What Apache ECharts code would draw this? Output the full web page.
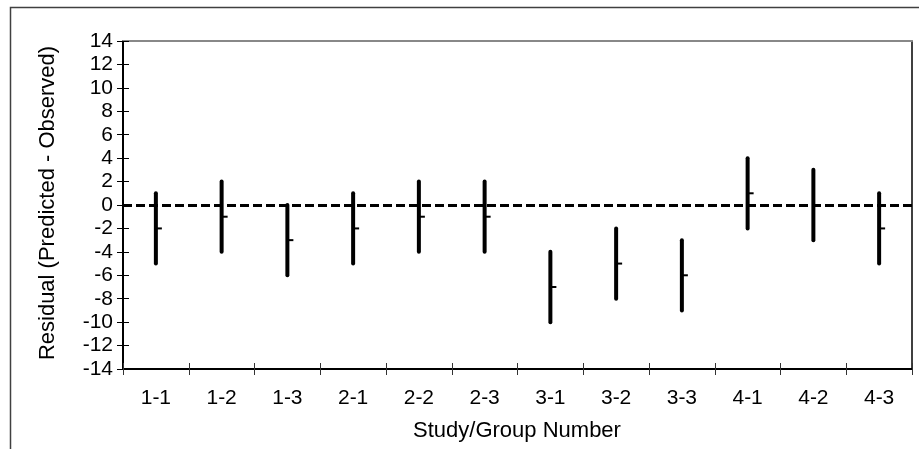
<!DOCTYPE html>
<html>
<head>
<meta charset="utf-8">
<script src="https://cdn.jsdelivr.net/npm/echarts@6/dist/echarts.min.js"></script>
<style>
html,body{margin:0;padding:0;background:#fff;}
#chart{width:919px;height:449px;}
</style>
</head>
<body>
<div id="chart"></div>
<script>
const categories = ['1-1','1-2','1-3','2-1','2-2','2-3','3-1','3-2','3-3','4-1','4-2','4-3'];
const lowValues  = [-5, -4, -6, -5, -4, -4, -10, -8, -9, -2, -3, -5];
const highValues = [ 1,  2,  0,  1,  2,  2,  -4, -2, -3,  4,  3,  1];
const meanValues = [-2, -1, -3, -2, -1, -1,  -7, -5, -6,  1,  0, -2];
const yMin = -14, yMax = 14, yStep = 2;
const xTitle = 'Study/Group Number';
const yTitle = 'Residual (Predicted - Observed)';

const FONT = 'Arial, "Liberation Sans", sans-serif';
const chart = echarts.init(document.getElementById('chart'), null, {renderer:'canvas'});

const seriesData = categories.map((c, i) => [i, lowValues[i], highValues[i], meanValues[i]]);

const option = {
  animation: false,
  backgroundColor: '#fff',
  grid: {left: 123, top: 41, right: 7, bottom: 80, show: false},
  xAxis: [
    {
      type: 'category', data: categories, position: 'bottom', boundaryGap: true,
      axisLine: {show: true, onZero: false, lineStyle: {color: '#000', width: 2}},
      axisTick: {show: true, inside: false, length: 6, alignWithLabel: false, lineStyle: {color: '#333', width: 1}},
      axisLabel: {show: true, color: '#000', fontSize: 21, fontFamily: FONT, margin: 19, interval: 0},
      splitLine: {show: false}
    },
    {
      type: 'category', data: categories, position: 'top', boundaryGap: true,
      axisLine: {show: true, onZero: false, lineStyle: {color: '#888', width: 2}},
      axisTick: {show: false}, axisLabel: {show: false}, splitLine: {show: false}
    },
    {
      type: 'category', data: categories, position: 'bottom', boundaryGap: true, offset: 0,
      axisLine: {show: false, onZero: false},
      axisTick: {show: true, inside: true, length: 6, lineStyle: {color: '#333', width: 1}},
      axisLabel: {show: false}, splitLine: {show: false}
    }
  ],
  yAxis: [
    {
      type: 'value', min: yMin, max: yMax, interval: yStep, position: 'left',
      axisLine: {show: true, onZero: false, lineStyle: {color: '#000', width: 2}},
      axisTick: {show: true, inside: false, length: 6, lineStyle: {color: '#000', width: 1}},
      axisLabel: {show: true, color: '#000', fontSize: 21, fontFamily: FONT, margin: 10},
      splitLine: {show: false}
    },
    {
      type: 'value', min: yMin, max: yMax, interval: yStep, position: 'left', offset: 0,
      axisLine: {show: false, onZero: false},
      axisTick: {show: true, inside: true, length: 6, lineStyle: {color: '#000', width: 1}},
      axisLabel: {show: false}, splitLine: {show: false}
    },
    {
      type: 'value', min: yMin, max: yMax, interval: yStep, position: 'right',
      axisLine: {show: true, onZero: false, lineStyle: {color: '#000', width: 1.5}},
      axisTick: {show: false}, axisLabel: {show: false}, splitLine: {show: false}
    }
  ],
  series: [
    {
      type: 'custom',
      xAxisIndex: 0, yAxisIndex: 0,
      data: seriesData,
      encode: {x: 0, y: [1, 2, 3]},
      renderItem: function (params, api) {
        const x = api.value(0);
        const lo = api.coord([x, api.value(1)]);
        const hi = api.coord([x, api.value(2)]);
        const m = api.coord([x, api.value(3)]);
        return {
          type: 'group',
          children: [
            {type: 'line', shape: {x1: lo[0], y1: lo[1], x2: hi[0], y2: hi[1]},
             style: {stroke: '#000', lineWidth: 4, lineCap: 'round'}},
            {type: 'line', shape: {x1: m[0], y1: m[1], x2: m[0] + 6, y2: m[1]},
             style: {stroke: '#000', lineWidth: 2}}
          ]
        };
      },
      markLine: {
        silent: true, symbol: 'none', label: {show: false},
        lineStyle: {color: '#000', type: [9, 4], width: 3},
        data: [{yAxis: 0}]
      },
      z: 3
    }
  ],
  graphic: [
    {type: 'rect', left: 8, top: 5, shape: {x: 0, y: 0, width: 1000, height: 1000},
     style: {fill: 'none', stroke: '#404040', lineWidth: 1.5}, silent: true, z: 0},
    {type: 'text', x: 48, y: 203, rotation: Math.PI / 2,
     style: {text: yTitle, font: '22px ' + FONT, fill: '#000', textAlign: 'center', textVerticalAlign: 'middle'}},
    {type: 'text', x: 517, y: 431,
     style: {text: xTitle, font: '22px ' + FONT, fill: '#000', textAlign: 'center', textVerticalAlign: 'middle'}}
  ]
};
chart.setOption(option);
</script>
</body>
</html>
